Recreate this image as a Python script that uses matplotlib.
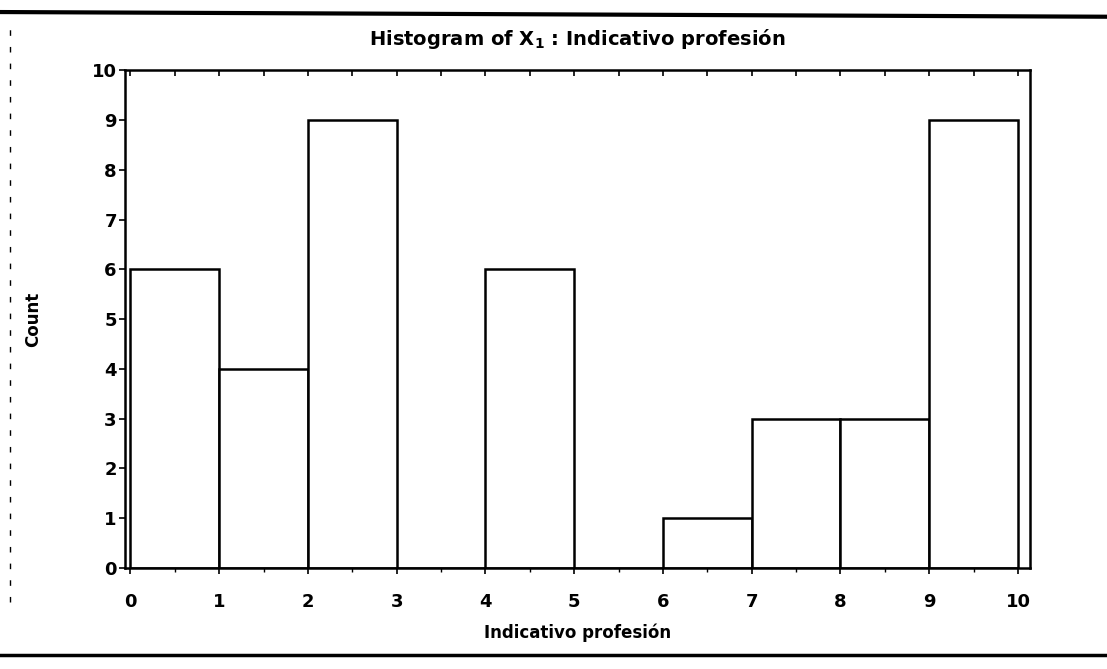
import matplotlib
matplotlib.use('Agg')
import matplotlib.pyplot as plt
import numpy as np

# histogram of X1 (indicativo profesion), unit-width bins
bin_edges = [0, 1, 2, 3, 4, 5, 6, 7, 8, 9, 10]
counts = [6, 4, 9, 0, 6, 0, 1, 3, 3, 9]
x_ticks = [0, 1, 2, 3, 4, 5, 6, 7, 8, 9, 10]
y_ticks = [0, 1, 2, 3, 4, 5, 6, 7, 8, 9, 10]

plt.rcParams['font.family'] = ['DejaVu Sans']
plt.rcParams['font.weight'] = 'bold'

fig = plt.figure(figsize=(11.07, 6.69), dpi=100)
ax = fig.add_axes([0.113, 0.151, 0.817, 0.744])

lefts = np.array(bin_edges[:-1])
widths = np.diff(bin_edges)
ax.bar(lefts, counts, width=widths, align='edge', color='white',
       edgecolor='black', linewidth=1.8)

ax.set_xlim(-0.06, 10.13)
ax.set_ylim(0, 10)
ax.set_xticks(x_ticks)
ax.set_xticks(np.array(x_ticks[:-1]) + 0.5, minor=True)
ax.set_yticks(y_ticks)
ax.tick_params(axis='both', labelsize=13, length=4, width=1.2, direction='out')
ax.tick_params(axis='x', which='both', pad=14)
ax.tick_params(axis='x', which='minor', length=3, width=1)
ax.tick_params(axis='y', pad=2)

# inward ticks along the top frame
top = ax.secondary_xaxis('top')
top.set_xticks(x_ticks)
top.set_xticks(np.array(x_ticks[:-1]) + 0.5, minor=True)
top.tick_params(which='both', direction='in', length=4, width=1.2, labeltop=False)
top.spines['top'].set_visible(False)

for lab in ax.get_xticklabels() + ax.get_yticklabels():
    lab.set_fontweight('bold')
for s in ax.spines.values():
    s.set_linewidth(1.8)

ax.set_title('Histogram of X$_\\mathbf{1}$ : Indicativo profesión',
             fontsize=14, fontweight='bold', pad=18)
ax.set_xlabel('Indicativo profesión', fontsize=12, fontweight='bold', labelpad=9)
ax.set_ylabel('Count', fontsize=12, fontweight='bold', labelpad=36)

# page rules from the printout
fig.add_artist(plt.Line2D([0, 1], [0.982, 0.975], color='black', linewidth=3,
                          transform=fig.transFigure))
fig.add_artist(plt.Line2D([0, 1], [0.021, 0.021], color='black', linewidth=2.5,
                          transform=fig.transFigure))
fig.add_artist(plt.Line2D([0.009, 0.009], [0.1, 0.97], color='black', linewidth=1,
                          linestyle=(0, (4, 8)), transform=fig.transFigure))

fig.savefig('out.png', dpi=100, facecolor='white')
